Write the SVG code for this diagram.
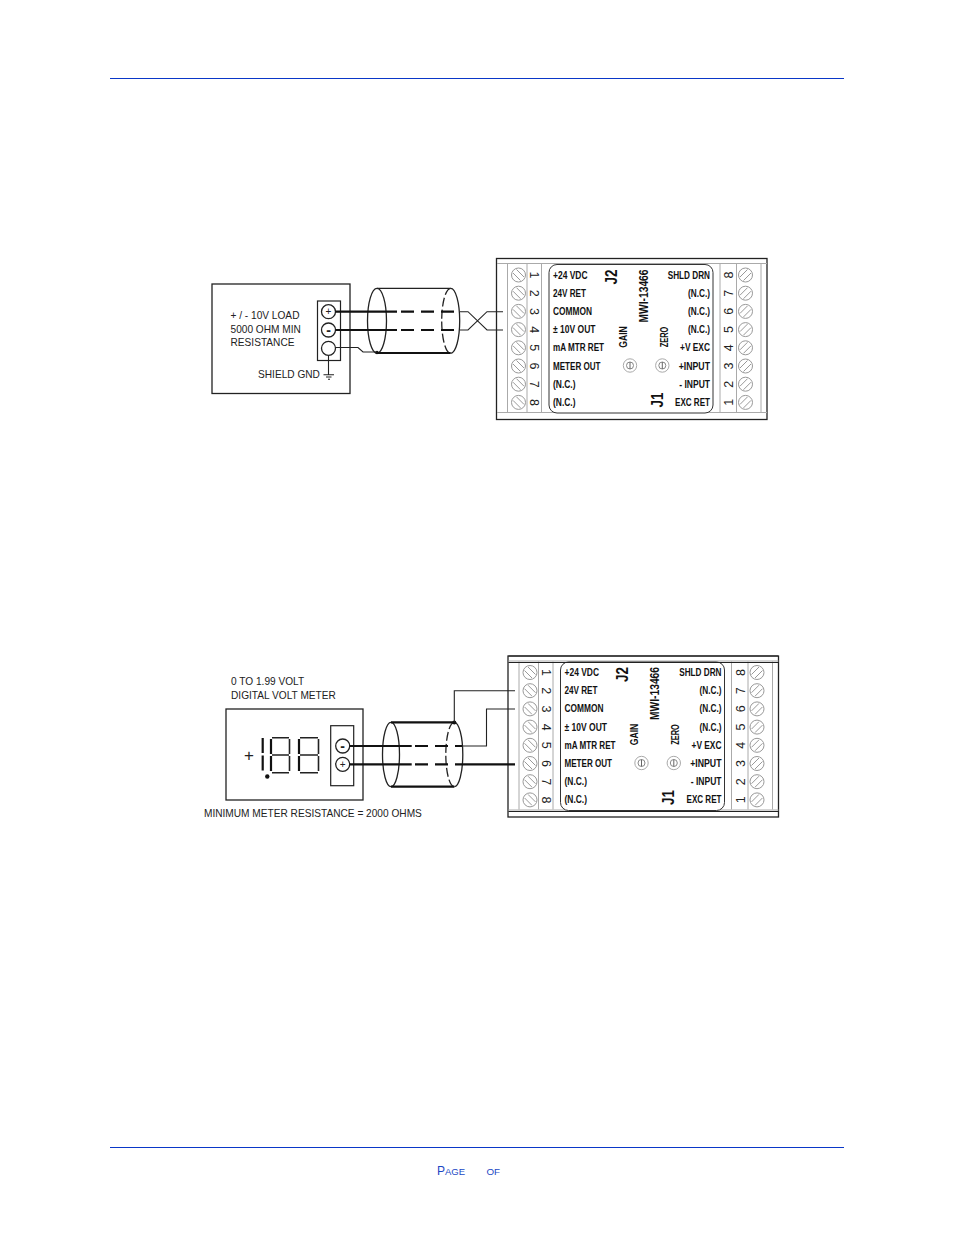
<svg xmlns="http://www.w3.org/2000/svg" width="954" height="1235" viewBox="0 0 954 1235">
<style>
text{font-family:"Liberation Sans",Arial,sans-serif;fill:#222}
.t{font-size:10.150px}
.b{font-size:10.600px;font-weight:bold;fill:#111}
.n{font-size:12.500px;text-anchor:middle;fill:#222}
.m{text-anchor:middle;font-weight:bold;fill:#111}
.k{fill:none;stroke:#222;stroke-width:1.3}
.th{fill:none;stroke:#111;stroke-width:2.2}
.da{fill:none;stroke:#111;stroke-width:2.2;stroke-dasharray:13 7}
.tn{fill:none;stroke:#222;stroke-width:1.1}
.hl{fill:none;stroke:#0a37c8;stroke-width:1}
.g{fill:none;stroke:#aaa;stroke-width:1}
.sg{fill:none;stroke:#111;stroke-width:2.200}
.sf{fill:none;stroke:#222;stroke-width:1.600}
.ft{fill:#1a48c4}
</style>
<defs>
<g id="sl"><circle r="7" fill="#fff" stroke="#999" stroke-width="1"/><path d="M-5.500-2L2 5.500M-2-5.500L5.500 2" fill="none" stroke="#999" stroke-width="1"/></g>
<g id="sr"><circle r="7" fill="#fff" stroke="#999" stroke-width="1"/><path d="M5.500-2L-2 5.500M2-5.500L-5.500 2" fill="none" stroke="#999" stroke-width="1"/></g>
<g id="pot"><circle r="6.700" fill="#fff" stroke="#aaa" stroke-width="1"/><circle r="3.500" fill="none" stroke="#888" stroke-width="1"/><path d="M0-3.500V3.500" stroke="#666" stroke-width="1"/></g>
<g id="body">
<rect x="496.500" y="258.500" width="270.500" height="161" fill="#fff" stroke="#222" stroke-width="1.300"/>
<path class="g" d="M497 263.500H767M497 412.500H767M507.500 264V412M527 264V412M541.500 264V412M720 264V412M736.500 264V412M761 264V412"/>
<rect x="549" y="264.500" width="164" height="148.500" rx="8" fill="#fff" stroke="#333" stroke-width="1"/>
<use href="#sl" x="518.500" y="275"/><use href="#sl" x="518.500" y="293.200"/><use href="#sl" x="518.500" y="311.400"/><use href="#sl" x="518.500" y="329.600"/><use href="#sl" x="518.500" y="347.800"/><use href="#sl" x="518.500" y="366"/><use href="#sl" x="518.500" y="384.200"/><use href="#sl" x="518.500" y="402.400"/>
<use href="#sr" x="745.500" y="275"/><use href="#sr" x="745.500" y="293.200"/><use href="#sr" x="745.500" y="311.400"/><use href="#sr" x="745.500" y="329.600"/><use href="#sr" x="745.500" y="347.800"/><use href="#sr" x="745.500" y="366"/><use href="#sr" x="745.500" y="384.200"/><use href="#sr" x="745.500" y="402.400"/>
<use href="#pot" x="630" y="365.500"/><use href="#pot" x="662.300" y="365.500"/>
</g>
</defs>

<g id="page-frame">
<path class="hl" d="M110 78.500H844M110 1147.500H844"/>
<text class="ft" x="437" y="1175" font-size="12">P<tspan font-size="9.500">AGE</tspan></text>
<text class="ft" x="486.500" y="1175" font-size="9.800">OF</text>
</g>

<g id="module-1">
<use href="#body"/>
<text class="n" transform="translate(530,275) rotate(90)">1</text><text class="n" transform="translate(530,293.200) rotate(90)">2</text><text class="n" transform="translate(530,311.400) rotate(90)">3</text><text class="n" transform="translate(530,329.600) rotate(90)">4</text><text class="n" transform="translate(530,347.800) rotate(90)">5</text><text class="n" transform="translate(530,366) rotate(90)">6</text><text class="n" transform="translate(530,384.200) rotate(90)">7</text><text class="n" transform="translate(530,402.400) rotate(90)">8</text>
<text class="n" transform="translate(733,275) rotate(-90)">8</text><text class="n" transform="translate(733,293.200) rotate(-90)">7</text><text class="n" transform="translate(733,311.400) rotate(-90)">6</text><text class="n" transform="translate(733,329.600) rotate(-90)">5</text><text class="n" transform="translate(733,347.800) rotate(-90)">4</text><text class="n" transform="translate(733,366) rotate(-90)">3</text><text class="n" transform="translate(733,384.200) rotate(-90)">2</text><text class="n" transform="translate(733,402.400) rotate(-90)">1</text>
<text class="b" x="553" y="278.500" textLength="34.500" lengthAdjust="spacingAndGlyphs">+24 VDC</text>
<text class="b" x="553" y="296.700" textLength="33" lengthAdjust="spacingAndGlyphs">24V RET</text>
<text class="b" x="553" y="314.900" textLength="39" lengthAdjust="spacingAndGlyphs">COMMON</text>
<text class="b" x="553" y="333.100" textLength="42.500" lengthAdjust="spacingAndGlyphs">± 10V OUT</text>
<text class="b" x="553" y="351.300" textLength="51" lengthAdjust="spacingAndGlyphs">mA MTR RET</text>
<text class="b" x="553" y="369.500" textLength="47.500" lengthAdjust="spacingAndGlyphs">METER OUT</text>
<text class="b" x="553" y="387.700" textLength="22.500" lengthAdjust="spacingAndGlyphs">(N.C.)</text>
<text class="b" x="553" y="405.900" textLength="22.500" lengthAdjust="spacingAndGlyphs">(N.C.)</text>
<text class="b" x="667.700" y="278.500" textLength="42.300" lengthAdjust="spacingAndGlyphs">SHLD DRN</text>
<text class="b" x="688" y="296.700" textLength="22" lengthAdjust="spacingAndGlyphs">(N.C.)</text>
<text class="b" x="688" y="314.900" textLength="22" lengthAdjust="spacingAndGlyphs">(N.C.)</text>
<text class="b" x="688" y="333.100" textLength="22" lengthAdjust="spacingAndGlyphs">(N.C.)</text>
<text class="b" x="680" y="351.300" textLength="30" lengthAdjust="spacingAndGlyphs">+V EXC</text>
<text class="b" x="678.700" y="369.500" textLength="31.300" lengthAdjust="spacingAndGlyphs">+INPUT</text>
<text class="b" x="679.300" y="387.700" textLength="30.700" lengthAdjust="spacingAndGlyphs">- INPUT</text>
<text class="b" x="675" y="405.900" textLength="35" lengthAdjust="spacingAndGlyphs">EXC RET</text>
<text class="m" font-size="16" transform="translate(616.500,277) rotate(-90)" textLength="15" lengthAdjust="spacingAndGlyphs">J2</text>
<text class="m" font-size="16" transform="translate(662.500,400) rotate(-90)" textLength="15" lengthAdjust="spacingAndGlyphs">J1</text>
<text class="m" font-size="13" transform="translate(647.500,296) rotate(-90)" textLength="53" lengthAdjust="spacingAndGlyphs">MWI-13466</text>
<text class="m" font-size="10.500" transform="translate(626.500,337) rotate(-90)" textLength="21.500" lengthAdjust="spacingAndGlyphs">GAIN</text>
<text class="m" font-size="10.500" transform="translate(667.500,337) rotate(-90)" textLength="20.500" lengthAdjust="spacingAndGlyphs">ZERO</text>
</g>

<g id="module-2">
<use href="#body" transform="translate(11.500,397.500)"/>
<path d="M508.500 662.500H778M508.500 811.500H778M508.500 656H778" fill="none" stroke="#222" stroke-width="1.200"/>
<g transform="translate(11.500,397.500)">
<text class="n" transform="translate(530,275) rotate(90)">1</text><text class="n" transform="translate(530,293.200) rotate(90)">2</text><text class="n" transform="translate(530,311.400) rotate(90)">3</text><text class="n" transform="translate(530,329.600) rotate(90)">4</text><text class="n" transform="translate(530,347.800) rotate(90)">5</text><text class="n" transform="translate(530,366) rotate(90)">6</text><text class="n" transform="translate(530,384.200) rotate(90)">7</text><text class="n" transform="translate(530,402.400) rotate(90)">8</text>
<text class="n" transform="translate(733,275) rotate(-90)">8</text><text class="n" transform="translate(733,293.200) rotate(-90)">7</text><text class="n" transform="translate(733,311.400) rotate(-90)">6</text><text class="n" transform="translate(733,329.600) rotate(-90)">5</text><text class="n" transform="translate(733,347.800) rotate(-90)">4</text><text class="n" transform="translate(733,366) rotate(-90)">3</text><text class="n" transform="translate(733,384.200) rotate(-90)">2</text><text class="n" transform="translate(733,402.400) rotate(-90)">1</text>
<text class="b" x="553" y="278.500" textLength="34.500" lengthAdjust="spacingAndGlyphs">+24 VDC</text>
<text class="b" x="553" y="296.700" textLength="33" lengthAdjust="spacingAndGlyphs">24V RET</text>
<text class="b" x="553" y="314.900" textLength="39" lengthAdjust="spacingAndGlyphs">COMMON</text>
<text class="b" x="553" y="333.100" textLength="42.500" lengthAdjust="spacingAndGlyphs">± 10V OUT</text>
<text class="b" x="553" y="351.300" textLength="51" lengthAdjust="spacingAndGlyphs">mA MTR RET</text>
<text class="b" x="553" y="369.500" textLength="47.500" lengthAdjust="spacingAndGlyphs">METER OUT</text>
<text class="b" x="553" y="387.700" textLength="22.500" lengthAdjust="spacingAndGlyphs">(N.C.)</text>
<text class="b" x="553" y="405.900" textLength="22.500" lengthAdjust="spacingAndGlyphs">(N.C.)</text>
<text class="b" x="667.700" y="278.500" textLength="42.300" lengthAdjust="spacingAndGlyphs">SHLD DRN</text>
<text class="b" x="688" y="296.700" textLength="22" lengthAdjust="spacingAndGlyphs">(N.C.)</text>
<text class="b" x="688" y="314.900" textLength="22" lengthAdjust="spacingAndGlyphs">(N.C.)</text>
<text class="b" x="688" y="333.100" textLength="22" lengthAdjust="spacingAndGlyphs">(N.C.)</text>
<text class="b" x="680" y="351.300" textLength="30" lengthAdjust="spacingAndGlyphs">+V EXC</text>
<text class="b" x="678.700" y="369.500" textLength="31.300" lengthAdjust="spacingAndGlyphs">+INPUT</text>
<text class="b" x="679.300" y="387.700" textLength="30.700" lengthAdjust="spacingAndGlyphs">- INPUT</text>
<text class="b" x="675" y="405.900" textLength="35" lengthAdjust="spacingAndGlyphs">EXC RET</text>
<text class="m" font-size="16" transform="translate(616.500,277) rotate(-90)" textLength="15" lengthAdjust="spacingAndGlyphs">J2</text>
<text class="m" font-size="16" transform="translate(662.500,400) rotate(-90)" textLength="15" lengthAdjust="spacingAndGlyphs">J1</text>
<text class="m" font-size="13" transform="translate(647.500,296) rotate(-90)" textLength="53" lengthAdjust="spacingAndGlyphs">MWI-13466</text>
<text class="m" font-size="10.500" transform="translate(626.500,337) rotate(-90)" textLength="21.500" lengthAdjust="spacingAndGlyphs">GAIN</text>
<text class="m" font-size="10.500" transform="translate(667.500,337) rotate(-90)" textLength="20.500" lengthAdjust="spacingAndGlyphs">ZERO</text>
</g>
</g>

<g id="load">
<rect x="212" y="284" width="138" height="109.500" fill="#fff" stroke="#222" stroke-width="1.300"/>
<rect x="317.500" y="301" width="23" height="59.500" fill="#fff" stroke="#222" stroke-width="1.200"/>
<circle class="k" cx="328.500" cy="311.700" r="7"/><circle class="k" cx="328.500" cy="330" r="7"/><circle class="k" cx="328.500" cy="348.300" r="7"/>
<text x="328.500" y="315.200" font-size="10" text-anchor="middle">+</text>
<text x="328.500" y="334.500" font-size="14" font-weight="bold" text-anchor="middle">-</text>
<text class="t" x="230.500" y="319">+ / - 10V LOAD</text>
<text class="t" x="230.500" y="333">5000 OHM MIN</text>
<text class="t" x="230.500" y="346">RESISTANCE</text>
<text class="t" x="258" y="378">SHIELD GND</text>
<path class="tn" d="M328.500 355.300V374.700M323.500 374.700H334M326 377H331.500M328 379.300H330"/>
</g>

<g id="meter">
<text class="t" x="231" y="685">0 TO 1.99 VOLT</text>
<text class="t" x="231" y="699">DIGITAL VOLT METER</text>
<rect x="226" y="709" width="137" height="91" fill="#fff" stroke="#222" stroke-width="1.300"/>
<rect x="330.700" y="725.700" width="23" height="60" fill="#fff" stroke="#222" stroke-width="1.200"/>
<circle class="k" cx="342.700" cy="746" r="7"/><circle class="k" cx="342.700" cy="764.300" r="7"/>
<text x="342.700" y="750.500" font-size="14" font-weight="bold" text-anchor="middle">-</text>
<text x="342.700" y="767.800" font-size="10" text-anchor="middle">+</text>
<text x="249" y="760.500" font-size="17" text-anchor="middle" fill="#222">+</text>
<path class="sg" d="M262.700 738V753M262.700 755.500V770.500"/>
<circle cx="267.300" cy="776.500" r="2.200" fill="#111"/>
<path class="sg" d="M271 739V754M271 756V771"/>
<path class="sf" d="M272 737.800H289M272 755H289M272 772.800H289M289.500 739V754M289.500 756V771"/>
<path class="sg" d="M299 739V754M299 756V771"/>
<path class="sf" d="M300 737.800H318M300 755H318M300 772.800H318M318.500 739V754M318.500 756V771"/>
<text class="t" x="204" y="817">MINIMUM METER RESISTANCE = 2000 OHMS</text>
</g>

<g id="connectors">
<g id="cable-1">
<ellipse class="k" cx="377" cy="320.800" rx="9.500" ry="32.500"/>
<path class="k" d="M450.700 288.300A9 32.500 0 0 1 450.700 353.300"/>
<path class="k" stroke-dasharray="9 3" d="M450.700 288.300A9 32.500 0 0 0 450.700 353.300"/>
<path class="k" stroke-width="1.600" d="M377 288.300H450.700"/>
<path class="th" d="M377 353H450.700"/>
<circle cx="377" cy="352.500" r="1.800" fill="#111"/>
<path class="th" d="M335.500 311.700H397M335.500 330H397"/>
<path class="da" d="M401 311.700H460M401 330H460"/>
<path class="tn" d="M460 311.700H468L487 330H503M460 330H468L487 311.700H503"/>
<path class="tn" d="M335.500 347.500H358L363 352H377"/>
</g>
<g id="cable-2">
<ellipse class="k" cx="391" cy="754.500" rx="8.500" ry="32.200"/>
<path class="k" d="M454.300 722.300A8.500 32.200 0 0 1 454.300 786.700"/>
<path class="k" stroke-dasharray="9 3" d="M454.300 722.300A8.500 32.200 0 0 0 454.300 786.700"/>
<path class="th" d="M391 722.300H454.300M391 786.700H454.300"/>
<circle cx="454.300" cy="722.500" r="2" fill="#111"/>
<path class="th" d="M349.700 746H411.700M349.700 764.300H411.700"/>
<path class="da" d="M415 746H462M415 764.300H462"/>
<path class="th" d="M462 764.300H515"/>
<path class="tn" stroke-width="1.300" d="M462 746H486.500V709H515"/>
<path class="tn" stroke-width="1.300" d="M454.300 722.300V690.700H515"/>
</g>
</g>
</svg>
